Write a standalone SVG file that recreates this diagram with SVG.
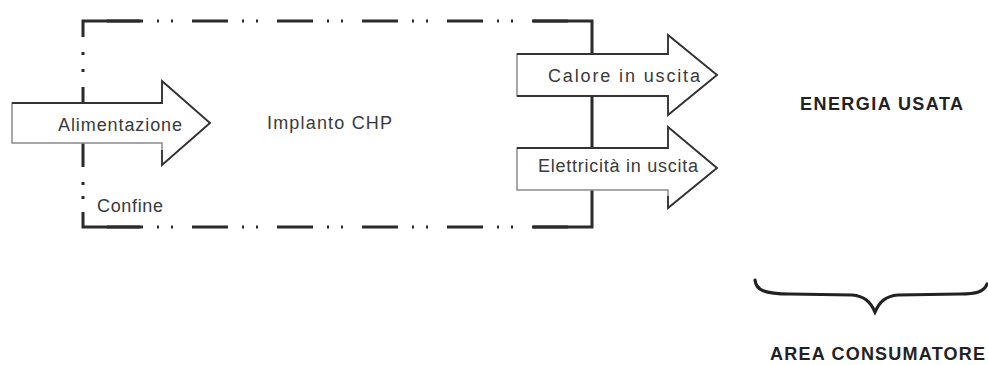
<svg xmlns="http://www.w3.org/2000/svg" width="988" height="365" viewBox="0 0 988 365">
<style>
.bd{fill:none;stroke:#2a2a2a;stroke-width:3}
.dash{stroke-dasharray:36 14 2 12 2 19}
.arr{fill:#fff;stroke:#8a8a8a;stroke-width:1.5}
.edge{fill:none;stroke:#333;stroke-width:1.8}
.t{font-family:"Liberation Sans",Arial,sans-serif;font-size:18px;fill:#3a3a3a}
.b{font-family:"Liberation Sans",Arial,sans-serif;font-size:18px;font-weight:bold;fill:#222}
</style>
<rect width="988" height="365" fill="#fff"/>
<g id="confine">
<path class="bd dash" d="M107,21 H568"/>
<path class="bd dash" d="M107,227 H568"/>
<path class="bd" d="M140,21 H83 V37 M83,52 V55 M83,69 V72 M83,87 V105 M83,143 V167 M83,182 V185 M83,196 V199 M83,212 V227 H140"/>
<path class="bd" d="M533,21 H592 V227 H533"/>
<text class="t" x="97" y="212" textLength="66">Confine</text>
</g>
<g id="impianto">
<text class="t" x="267" y="129" textLength="125">Implanto CHP</text>
</g>
<g id="alimentazione">
<polygon class="arr" points="12,103 162,103 162,81 210,123 162,165 162,143 12,143"/>
<path class="edge" d="M12,103 H162 V81 L210,123 L162,165 V150"/>
<text class="t" x="58" y="131" textLength="124">Alimentazione</text>
</g>
<g id="calore">
<polygon class="arr" points="517,54 668,54 668,35 717,75 668,115 668,96 517,96"/>
<path class="edge" d="M517,54 H668 V35 L717,75 L668,115 V96 H517"/>
<text class="t" x="548" y="82" textLength="152">Calore in uscita</text>
</g>
<g id="elettricita">
<polygon class="arr" points="517,148 668,148 668,127 717,168 668,208 668,190 517,190"/>
<path class="edge" d="M517,148 H668 V127 L717,168 L668,208 V196"/>
<text class="t" x="538" y="172" textLength="160">Elettricità in uscita</text>
</g>
<g id="energia">
<text class="b" x="800" y="110" textLength="163">ENERGIA USATA</text>
</g>
<g id="consumatore">
<path d="M755,280 C756,290 764,294 790,294 L852,295 C864,296 870,301 875,312 C880,301 886,296 898,295 L960,294 C976,294 984,292 987,284" fill="none" stroke="#222" stroke-width="3.2" stroke-linecap="round"/>
<text class="b" x="770" y="360" textLength="215">AREA CONSUMATORE</text>
</g>
</svg>
